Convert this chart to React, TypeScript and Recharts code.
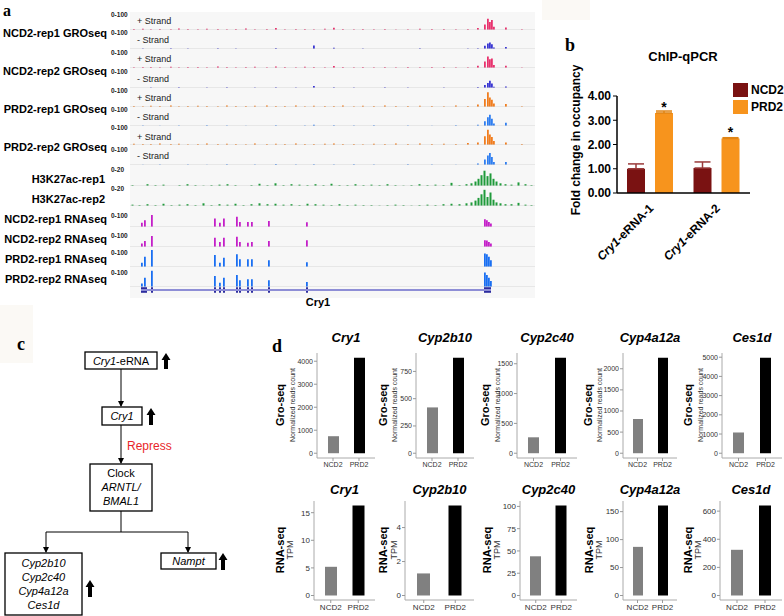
import React from 'react';
import {
  BarChart, Bar, XAxis, YAxis, ReferenceLine, ReferenceArea, ErrorBar, LabelList, Cell,
} from 'recharts';

const FONT = 'Arial, "Liberation Sans", sans-serif';
const SERIF = '"Liberation Serif", "Times New Roman", serif';

// ---------- panel a : browser tracks over the Cry1 locus (x = bin across the window) ----------
const groPos = [4, 13, 21, 30, 41, 49, 58, 68, 77, 88, 97, 106, 116, 125, 137, 146, 155, 166, 175, 184,
  195, 204, 213, 224, 233, 244, 255, 266, 278, 290, 302, 314, 326, 338, 348, 355, 358, 360, 362, 364, 376, 392];

const ncd1Plus = [6, 8, 5, 7, 4, 9, 6, 5, 8, 6, 5, 7, 9, 4, 6, 12, 5, 6, 7, 5, 8, 14, 6, 5, 7, 4, 6, 3, 5, 8, 6, 7, 4, 6, 12, 35, 70, 50, 62, 20, 15, 4];
const ncd1Minus = [0, 3, 0, 0, 4, 0, 3, 0, 0, 5, 0, 3, 0, 0, 0, 6, 0, 0, 0, 22, 0, 8, 0, 0, 3, 0, 0, 0, 0, 4, 0, 0, 0, 3, 5, 20, 35, 40, 30, 10, 12, 0];
const ncd2Plus = [5, 7, 6, 4, 8, 5, 7, 6, 4, 9, 6, 5, 7, 8, 5, 9, 6, 4, 8, 6, 5, 13, 7, 4, 6, 5, 7, 4, 6, 5, 7, 6, 5, 4, 14, 40, 72, 55, 60, 18, 14, 3];
const ncd2Minus = [0, 0, 3, 0, 0, 4, 0, 0, 3, 0, 4, 0, 0, 3, 0, 5, 0, 3, 0, 12, 0, 5, 0, 3, 0, 0, 4, 0, 3, 0, 0, 3, 0, 0, 6, 18, 32, 45, 28, 8, 10, 0];
const prd1Plus = [7, 5, 8, 6, 9, 5, 7, 8, 6, 5, 9, 7, 6, 8, 10, 7, 6, 9, 5, 8, 6, 7, 9, 5, 8, 6, 10, 7, 6, 8, 7, 5, 9, 6, 15, 50, 92, 60, 45, 22, 18, 5];
const prd1Minus = [0, 3, 0, 2, 0, 3, 0, 0, 4, 0, 3, 0, 2, 0, 0, 5, 0, 0, 3, 8, 0, 4, 0, 3, 0, 4, 0, 0, 3, 0, 2, 0, 4, 0, 8, 30, 55, 70, 45, 15, 20, 0];
const prd2Plus = [8, 6, 7, 9, 6, 8, 5, 7, 9, 6, 8, 7, 5, 9, 7, 8, 6, 10, 7, 6, 8, 9, 6, 7, 5, 8, 6, 9, 7, 10, 6, 8, 7, 12, 16, 55, 95, 65, 50, 25, 16, 6];
const prd2Minus = [0, 2, 0, 3, 0, 0, 3, 0, 2, 0, 4, 0, 0, 3, 0, 6, 0, 3, 0, 5, 0, 3, 0, 4, 0, 3, 0, 0, 4, 0, 3, 0, 2, 0, 10, 35, 60, 75, 50, 18, 18, 0];

const h3Pos = [2, 9, 17, 25, 33, 41, 49, 57, 65, 73, 81, 89, 97, 105, 113, 121, 129, 137, 145, 153, 161, 169, 177, 185,
  193, 201, 209, 217, 225, 233, 241, 249, 257, 265, 273, 281, 289, 297, 305, 313, 321, 329, 336, 341, 345, 348, 351,
  354, 357, 360, 363, 366, 370, 375, 381, 388, 395, 401];
const h3Rep1 = [1, 0, 2, 1, 1.5, 0, 1, 2, 1, 0.5, 1, 1.5, 2, 1, 0, 1, 2.5, 1, 3, 1, 2, 1.5, 1, 2, 1, 2.5, 1, 1, 2, 1,
  1.5, 1, 2, 1, 0.5, 1, 2, 1, 1.5, 1, 3.5, 1, 2, 3, 5, 8, 12, 17, 11, 14, 8, 5, 3, 2, 1.5, 4, 2, 1];
const h3Rep2 = [1.5, 1, 2, 1, 2.5, 1, 1.5, 2, 1, 3, 1, 2, 1.5, 2.5, 1, 2, 3, 2, 2.5, 1.5, 2, 1, 2.5, 2, 1.5, 1, 2, 1, 1.5, 1,
  1, 0.5, 1, 1.5, 1, 0.5, 1, 1.5, 1, 2, 2.5, 2, 3, 4, 6, 9, 13, 18, 10, 15, 7, 4, 3, 2, 2, 3.5, 1.5, 1];

const exonPos = [12, 15, 22, 85, 90, 94, 107, 110, 118, 122, 139, 177, 355, 357, 359, 361];
const rnaNcd1 = [25, 40, 70, 50, 25, 50, 60, 30, 30, 30, 35, 28, 45, 40, 30, 20];
const rnaNcd2 = [20, 35, 65, 55, 30, 55, 60, 30, 25, 30, 35, 40, 40, 38, 30, 20];
const rnaPrd1 = [25, 60, 100, 70, 25, 55, 75, 45, 45, 45, 40, 28, 80, 75, 60, 40];
const rnaPrd2 = [20, 55, 95, 65, 25, 55, 70, 40, 45, 45, 40, 30, 85, 70, 55, 35];

const geneExons = [[11, 17], [21, 23], [84, 86], [89, 91], [93, 95], [106, 108], [109, 111], [117, 119], [121, 123], [138, 140], [176, 178], [354, 361]];

// ---------- panel b : ChIP-qPCR ----------
const chipCats = ['Cry1-eRNA-1', 'Cry1-eRNA-2'];
const chipNCD2 = [1.0, 1.03];
const chipPRD2 = [3.3, 2.25];
const chipNCD2Err = [0.2, 0.25];
const chipPRD2Err = [0.08, 0.03];

// ---------- panel d : Gro-seq / RNA-seq ----------
const genes = ['Cry1', 'Cyp2b10', 'Cyp2c40', 'Cyp4a12a', 'Ces1d'];
const groups = ['NCD2', 'PRD2'];
const groNCD2 = [740, 420, 267, 810, 1080];
const groPRD2 = [4150, 875, 1600, 2260, 4970];
const rnaNCD2 = [5.2, 1.3, 44, 87, 325];
const rnaPRD2 = [16.3, 5.3, 101, 161, 640];
const groTicks = [[0, 1000, 2000, 3000, 4000], [0, 250, 500, 750], [0, 500, 1000, 1500], [0, 500, 1000, 1500, 2000], [0, 1000, 2000, 3000, 4000, 5000]];
const rnaTicks = [[0, 5, 10, 15], [0, 2, 4], [0, 25, 50, 75, 100], [0, 50, 100, 150], [0, 200, 400, 600]];

const TRACK_LEFT = 130;
const TRACK_W = 405;

function Track({ pos, vals, color, base, h, max }: any) {
  const data = pos.map((p: number, i: number) => ({ pos: p, v: vals[i] ?? 0 }));
  return (
    <div style={{ position: 'absolute', left: TRACK_LEFT, top: base - h, width: TRACK_W, height: h }}>
      <BarChart width={TRACK_W} height={h} data={data} margin={{ top: 0, right: 0, bottom: 0, left: 0 }}>
        <XAxis type="number" dataKey="pos" domain={[0, TRACK_W]} hide />
        <YAxis domain={[0, max]} hide />
        <ReferenceLine y={0} stroke="#d6d6d6" />
        <Bar dataKey="v" fill={color} barSize={2} isAnimationActive={false} />
      </BarChart>
    </div>
  );
}

function GeneModel() {
  const data = geneExons.map((e) => ({ pos: e[0], v: 0 }));
  return (
    <div style={{ position: 'absolute', left: TRACK_LEFT, top: 286, width: TRACK_W, height: 8 }}>
      <BarChart width={TRACK_W} height={8} data={data} margin={{ top: 0, right: 0, bottom: 0, left: 0 }}>
        <XAxis type="number" dataKey="pos" domain={[0, TRACK_W]} hide />
        <YAxis domain={[0, 1]} hide />
        <Bar dataKey="v" fill="#2b2b9e" isAnimationActive={false} />
        <ReferenceLine segment={[{ x: 11, y: 0.5 }, { x: 361, y: 0.5 }]} stroke="#8e8ed6" strokeWidth={2} />
        {geneExons.map((e, i) => (
          <ReferenceArea key={i} x1={e[0]} x2={e[1]} y1={0.15} y2={0.85} fill="#2b2b9e" fillOpacity={1} stroke="none" />
        ))}
      </BarChart>
    </div>
  );
}

const NCD_PLUS = '#e8336e';
const NCD_MINUS = '#3a36d2';
const PRD_PLUS = '#f07d1f';
const PRD_MINUS = '#2f7ef0';
const GREEN = '#1f9a3a';
const MAGENTA = '#c41fc8';
const BLUE_RNA = '#1a6ff2';

const groTracks = [
  { vals: ncd1Plus, color: NCD_PLUS, base: 30 },
  { vals: ncd1Minus, color: NCD_MINUS, base: 49 },
  { vals: ncd2Plus, color: NCD_PLUS, base: 68 },
  { vals: ncd2Minus, color: NCD_MINUS, base: 88 },
  { vals: prd1Plus, color: PRD_PLUS, base: 107 },
  { vals: prd1Minus, color: PRD_MINUS, base: 126 },
  { vals: prd2Plus, color: PRD_PLUS, base: 145 },
  { vals: prd2Minus, color: PRD_MINUS, base: 165 },
];
const h3Tracks = [
  { vals: h3Rep1, base: 186 },
  { vals: h3Rep2, base: 206 },
];
const rnaTracks = [
  { vals: rnaNcd1, color: MAGENTA, base: 227 },
  { vals: rnaNcd2, color: MAGENTA, base: 247 },
  { vals: rnaPrd1, color: BLUE_RNA, base: 267 },
  { vals: rnaPrd2, color: BLUE_RNA, base: 287 },
];

const trackLabels = [
  ['NCD2-rep1 GROseq', 33, 107], ['NCD2-rep2 GROseq', 71, 107], ['PRD2-rep1 GROseq', 109, 107], ['PRD2-rep2 GROseq', 147, 107],
  ['H3K27ac-rep1', 179, 105], ['H3K27ac-rep2', 199, 105],
  ['NCD2-rep1 RNAseq', 219, 107], ['NCD2-rep2 RNAseq', 239, 107], ['PRD2-rep1 RNAseq', 259, 107], ['PRD2-rep2 RNAseq', 279, 107],
];
const scaleLabels = [
  ['0-100', 15], ['0-100', 33], ['0-100', 53], ['0-100', 72], ['0-100', 91], ['0-100', 110], ['0-100', 128], ['0-100', 150],
  ['0-20', 170], ['0-20', 189], ['0-100', 216], ['0-100', 236], ['0-100', 253], ['0-100', 273],
];
const strandLabels = [
  ['+ Strand', 21], ['- Strand', 40], ['+ Strand', 59], ['- Strand', 79],
  ['+ Strand', 98], ['- Strand', 117], ['+ Strand', 137], ['- Strand', 156],
];

// ---------- panel b chart ----------
function ChipTick({ x, y, payload }: any) {
  const parts = String(payload.value).split('-eRNA');
  return (
    <g transform={`translate(${x + 4},${y + 8})`}>
      <text transform="rotate(-45)" textAnchor="end" fontSize={12} fontWeight="bold" fontFamily={FONT} fill="#000">
        <tspan fontStyle="italic">{parts[0]}</tspan>
        <tspan>{'-eRNA' + parts[1]}</tspan>
      </text>
    </g>
  );
}

function ChipChart() {
  const data = chipCats.map((c, i) => ({
    cat: c,
    ncd: chipNCD2[i],
    prd: chipPRD2[i],
    ncdErr: [0, chipNCD2Err[i]],
    prdErr: [0, chipPRD2Err[i]],
  }));
  return (
    <div style={{ position: 'absolute', left: 540, top: 80 }}>
      <BarChart width={244} height={200} data={data} margin={{ top: 16, right: 34, bottom: 0, left: 0 }} barGap={10}>
        <XAxis dataKey="cat" height={87} tick={<ChipTick />} tickLine={false} axisLine={{ stroke: '#000', strokeWidth: 1.5 }} interval={0} />
        <YAxis
          width={77}
          domain={[0, 4]}
          ticks={[0, 1, 2, 3, 4]}
          tickFormatter={(v: number) => v.toFixed(2)}
          tick={{ fontSize: 12, fontWeight: 'bold', fill: '#000', fontFamily: FONT }}
          tickSize={4}
          tickLine={{ stroke: '#000' }}
          axisLine={{ stroke: '#000', strokeWidth: 1.5 }}
        />
        <Bar dataKey="ncd" fill="#7a1212" barSize={18} isAnimationActive={false}>
          <ErrorBar dataKey="ncdErr" width={8} stroke="#9a3a3a" strokeWidth={1.5} direction="y" />
        </Bar>
        <Bar dataKey="prd" fill="#f7941d" barSize={18} isAnimationActive={false}>
          <ErrorBar dataKey="prdErr" width={8} stroke="#e08414" strokeWidth={1.5} direction="y" />
          <LabelList dataKey="prd" position="top" offset={1} formatter={() => '*'} fill="#000" fontSize={14} fontWeight="bold" fontFamily={FONT} />
        </Bar>
      </BarChart>
    </div>
  );
}

// ---------- panel d small charts ----------
function Mini({ left, right, top, bottom, vals, ticks, fs }: any) {
  const w = right - left;
  const yw = 30;
  const max = Math.max(...vals);
  const data = groups.map((g, i) => ({ g, v: vals[i] }));
  const pad = Math.round(w * 0.045);
  const bs = Math.round((w / 2.2) * 0.42);
  return (
    <div style={{ position: 'absolute', left: left - yw, top: top - 2 }}>
      <BarChart width={yw + w + 2} height={bottom - top + 2 + 20} data={data} margin={{ top: 2, right: 2, left: 0, bottom: 0 }}>
        <XAxis
          dataKey="g"
          height={20}
          padding={{ left: pad, right: pad }}
          interval={0}
          tick={{ fontSize: fs, fill: '#333', fontFamily: FONT }}
          tickSize={3}
          tickMargin={1}
          tickLine={{ stroke: '#999' }}
          axisLine={{ stroke: '#aaa' }}
        />
        <YAxis
          width={yw}
          domain={[-0.05 * max, 1.05 * max]}
          ticks={ticks}
          interval={0}
          tick={{ fontSize: fs, fill: '#333', fontFamily: FONT }}
          tickSize={3}
          tickMargin={1}
          tickLine={{ stroke: '#999' }}
          axisLine={{ stroke: '#aaa' }}
        />
        <Bar dataKey="v" barSize={bs} isAnimationActive={false}>
          {data.map((d, i) => (
            <Cell key={d.g} fill={i === 0 ? '#808080' : '#000'} />
          ))}
        </Bar>
      </BarChart>
    </div>
  );
}

const topRow = [[317, 375], [416, 474], [517, 577], [623, 677], [722, 782]];
const botRow = [[314, 375], [405, 474], [520, 577], [623, 677], [720, 782]];
const groLabX = [280, 383, 485, 588, 688];
const groSubX = [292, 394, 497, 599, 700];
const rnaLabX = [280, 383, 487, 589, 688];
const rnaSubX = [290, 394, 497, 599, 698];

function ThickArrow({ cx, y1, y2 }: any) {
  return (
    <path
      d={`M${cx},${y1} L${cx + 4.5},${y1 + 7} L${cx + 2},${y1 + 7} L${cx + 2},${y2} L${cx - 2},${y2} L${cx - 2},${y1 + 7} L${cx - 4.5},${y1 + 7} Z`}
      fill="#000"
    />
  );
}

function Overlay() {
  const t = { fontFamily: FONT };
  return (
    <svg width={784} height={616} style={{ position: 'absolute', left: 0, top: 0, pointerEvents: 'none' }}>
      <defs>
        <marker id="ah" markerWidth="6" markerHeight="6" refX="5" refY="3" orient="auto">
          <path d="M0,0 L6,3 L0,6 Z" fill="#000" />
        </marker>
      </defs>
      {/* panel letters */}
      <text x={3} y={16} fontFamily={SERIF} fontWeight="bold" fontSize={16}>a</text>
      <text x={565} y={51} fontFamily={SERIF} fontWeight="bold" fontSize={18}>b</text>
      <text x={17} y={350} fontFamily={SERIF} fontWeight="bold" fontSize={18}>c</text>
      <text x={272} y={352} fontFamily={SERIF} fontWeight="bold" fontSize={18}>d</text>

      {/* panel a labels */}
      {trackLabels.map(([s, y, x]: any) => (
        <text key={s} x={x} y={y + 4} textAnchor="end" fontSize={11} fontWeight="bold" {...t}>{s}</text>
      ))}
      {scaleLabels.map(([s, y]: any, i) => (
        <text key={i} x={111} y={y + 2} fontSize={6.5} fontWeight="bold" fill="#222" {...t}>{s}</text>
      ))}
      {strandLabels.map(([s, y]: any, i) => (
        <text key={i} x={137} y={y + 3} fontSize={9} fill="#222" {...t}>{s}</text>
      ))}
      <text x={318} y={306} textAnchor="middle" fontSize={11} fontWeight="bold" {...t}>Cry1</text>

      {/* panel b text */}
      <text x={683} y={61} textAnchor="middle" fontSize={13} fontWeight="bold" {...t}>ChIP-qPCR</text>
      <text transform="translate(580,140) rotate(-90)" textAnchor="middle" fontSize={12} fontWeight="bold" {...t}>Fold change in occupancy</text>
      <rect x={733} y={83} width={15} height={14} fill="#7a1212" />
      <rect x={733} y={100} width={15} height={14} fill="#f7941d" />
      <text x={751} y={94} fontSize={12} fontWeight="bold" {...t}>NCD2</text>
      <text x={751} y={111} fontSize={12} fontWeight="bold" {...t}>PRD2</text>

      {/* panel c flowchart */}
      <g fontFamily={FONT} fontSize={11} stroke="none">
        <rect x={85} y={352} width={72} height={17} fill="#fff" stroke="#000" strokeWidth={1.3} />
        <text x={121} y={365} textAnchor="middle"><tspan fontStyle="italic">Cry1</tspan>-eRNA</text>
        <ThickArrow cx={166} y1={353} y2={369} />
        <line x1={121} y1={369} x2={121} y2={406} stroke="#000" markerEnd="url(#ah)" />
        <rect x={102} y={407} width={40} height={18} fill="#fff" stroke="#000" strokeWidth={1.3} />
        <text x={122} y={420} textAnchor="middle" fontStyle="italic">Cry1</text>
        <ThickArrow cx={151} y1={408} y2={425} />
        <line x1={121} y1={425} x2={121} y2={463} stroke="#000" markerEnd="url(#ah)" />
        <text x={127} y={450} fontSize={12} fill="#e8262a">Repress</text>
        <rect x={90} y={464} width={62} height={47} fill="#fff" stroke="#000" strokeWidth={1.3} />
        <text x={121} y={477} textAnchor="middle">Clock</text>
        <text x={121} y={491} textAnchor="middle" fontStyle="italic">ARNTL/</text>
        <text x={121} y={505} textAnchor="middle" fontStyle="italic">BMAL1</text>
        <line x1={121} y1={511} x2={121} y2={532} stroke="#000" />
        <line x1={46} y1={532} x2={188} y2={532} stroke="#000" />
        <line x1={46} y1={532} x2={46} y2={552} stroke="#000" markerEnd="url(#ah)" />
        <line x1={188} y1={532} x2={188} y2={552} stroke="#000" markerEnd="url(#ah)" />
        <rect x={5} y={553} width={77} height={62} fill="#fff" stroke="#000" strokeWidth={1.3} />
        <text x={43.5} y={567} textAnchor="middle" fontStyle="italic">Cyp2b10</text>
        <text x={43.5} y={581} textAnchor="middle" fontStyle="italic">Cyp2c40</text>
        <text x={43.5} y={595} textAnchor="middle" fontStyle="italic">Cyp4a12a</text>
        <text x={43.5} y={609} textAnchor="middle" fontStyle="italic">Ces1d</text>
        <ThickArrow cx={90} y1={580} y2={597} />
        <rect x={161} y={553} width={55} height={16} fill="#fff" stroke="#000" strokeWidth={1.3} />
        <text x={188.5} y={565} textAnchor="middle" fontStyle="italic">Nampt</text>
        <ThickArrow cx={223} y1={553} y2={570} />
      </g>

      {/* panel d titles and axis titles */}
      {genes.map((g, i) => (
        <g key={g} fontFamily={FONT}>
          <text x={(topRow[i][0] + topRow[i][1]) / 2} y={342} textAnchor="middle" fontSize={13} fontWeight="bold" fontStyle="italic">{g}</text>
          <text x={(botRow[i][0] + botRow[i][1]) / 2} y={494} textAnchor="middle" fontSize={13} fontWeight="bold" fontStyle="italic">{g}</text>
          <text transform={`translate(${groLabX[i] + 4},405) rotate(-90)`} textAnchor="middle" fontSize={11} fontWeight="bold">Gro-seq</text>
          <text transform={`translate(${groSubX[i] + 3},405) rotate(-90)`} textAnchor="middle" fontSize={7} fill="#333">Normalized reads count</text>
          <text transform={`translate(${rnaLabX[i] + 4},550) rotate(-90)`} textAnchor="middle" fontSize={11} fontWeight="bold">RNA-seq</text>
          <text transform={`translate(${rnaSubX[i] + 3},550) rotate(-90)`} textAnchor="middle" fontSize={9} fill="#333">TPM</text>
        </g>
      ))}
    </svg>
  );
}

export default function App() {
  return (
    <div style={{ position: 'absolute', left: 0, top: 0, width: 784, height: 616, background: '#fff', overflow: 'hidden', fontFamily: FONT }}>
      {/* faint backgrounds */}
      <div style={{ position: 'absolute', left: 542, top: 0, width: 48, height: 20, background: '#fbf9f5' }} />
      <div style={{ position: 'absolute', left: 0, top: 305, width: 33, height: 58, background: '#fbf9f5' }} />
      <div style={{ position: 'absolute', left: TRACK_LEFT, top: 12, width: TRACK_W, height: 286, background: '#f7f7f7' }} />

      {groTracks.map((tr, i) => (
        <Track key={'g' + i} pos={groPos} vals={tr.vals} color={tr.color} base={tr.base} h={16} max={100} />
      ))}
      {h3Tracks.map((tr, i) => (
        <Track key={'h' + i} pos={h3Pos} vals={tr.vals} color={GREEN} base={tr.base} h={18} max={20} />
      ))}
      {rnaTracks.map((tr, i) => (
        <Track key={'r' + i} pos={exonPos} vals={tr.vals} color={tr.color} base={tr.base} h={17} max={100} />
      ))}
      <GeneModel />

      <ChipChart />

      {genes.map((g, i) => (
        <React.Fragment key={g}>
          <Mini left={topRow[i][0]} right={topRow[i][1]} top={353} bottom={458} vals={[groNCD2[i], groPRD2[i]]} ticks={groTicks[i]} fs={7} />
          <Mini left={botRow[i][0]} right={botRow[i][1]} top={501} bottom={600} vals={[rnaNCD2[i], rnaPRD2[i]]} ticks={rnaTicks[i]} fs={8} />
        </React.Fragment>
      ))}

      <Overlay />
    </div>
  );
}
